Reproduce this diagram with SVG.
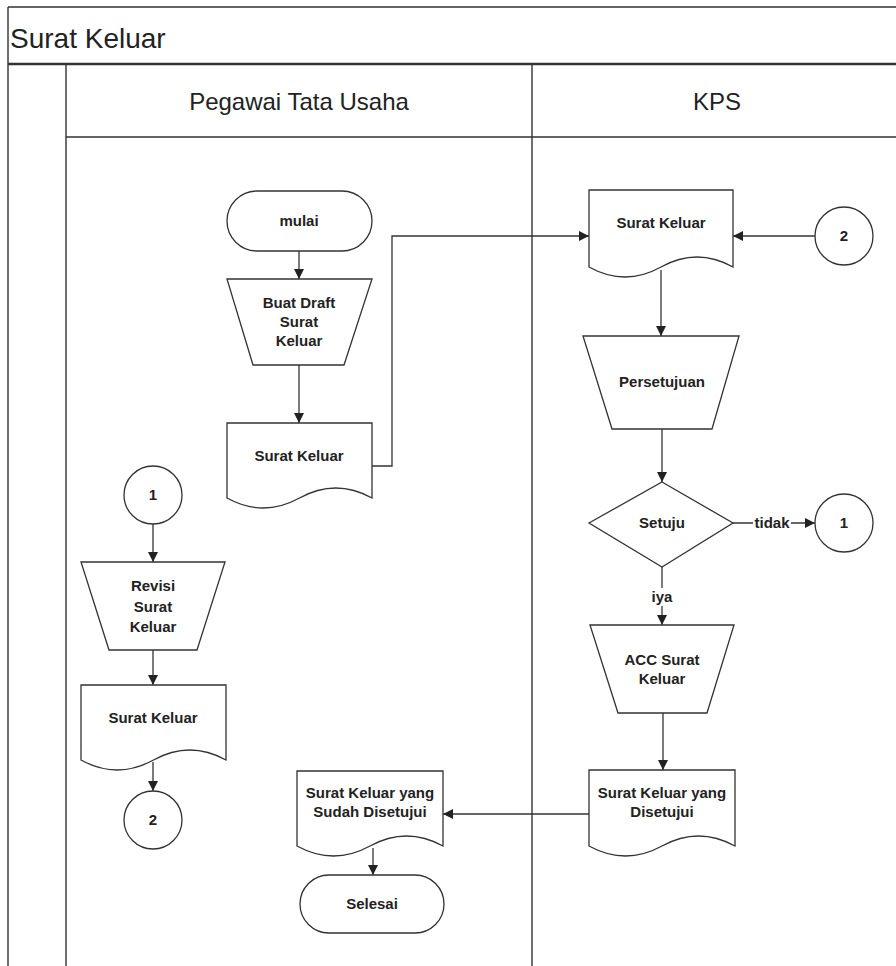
<svg xmlns="http://www.w3.org/2000/svg" width="896" height="966" viewBox="0 0 896 966">
<defs>
<marker id="ah" viewBox="0 0 10 10" refX="10" refY="5" markerWidth="10" markerHeight="10" markerUnits="userSpaceOnUse" orient="auto">
<path d="M0,0 L10,5 L0,10 Z" fill="#222"/>
</marker>
<style>
.frame{fill:none;stroke:#333;stroke-width:1.4}
.shape{fill:#fff;stroke:#333;stroke-width:1.3}
.conn{fill:none;stroke:#333;stroke-width:1.3;marker-end:url(#ah)}
.plain{fill:none;stroke:#333;stroke-width:1.3}
text{font-family:"Liberation Sans",Arial,sans-serif;fill:#222}
.t{font-size:15px;font-weight:bold;text-anchor:middle}
.h{font-size:24px;text-anchor:middle}
.title{font-size:28px}
</style>
</defs>
<rect width="896" height="966" fill="#fff"/>
<g id="frame">
<path class="frame" d="M8,7 H896 M8,7 V966 M66,64 V966 M66,137 H896 M532,64 V966"/>
<path d="M8,64 H896" fill="none" stroke="#333" stroke-width="2.4"/>
<text class="title" x="10" y="48">Surat Keluar</text>
<text class="h" x="299" y="110">Pegawai Tata Usaha</text>
<text class="h" x="717" y="110">KPS</text>
</g>
<g id="connectors">
<path class="conn" d="M299,251 V279"/>
<path class="conn" d="M299,365 V423"/>
<path class="conn" d="M372,466 H392 V236 H589"/>
<path class="conn" d="M815,236 H733"/>
<path class="conn" d="M661,270 V336"/>
<path class="conn" d="M662,429 V482"/>
<path class="conn" d="M733,523 H815"/>
<path class="conn" d="M662,567 V625"/>
<path class="conn" d="M663,713 V770"/>
<path class="conn" d="M589,814 H443"/>
<path class="conn" d="M373,848 V875"/>
<path class="conn" d="M153,524 V562"/>
<path class="conn" d="M153,650 V685"/>
<path class="conn" d="M153,762 V791"/>
<rect x="753" y="514" width="38" height="18" fill="#fff"/>
<text class="t" x="772" y="528">tidak</text>
<rect x="650" y="588" width="24" height="18" fill="#fff"/>
<text class="t" x="662" y="602">iya</text>
</g>
<g id="mulai">
<rect class="shape" x="227" y="191" width="145" height="60" rx="30"/>
<text class="t" x="299" y="226">mulai</text>
</g>
<g id="buat-draft">
<path class="shape" d="M227,279 H372 L344,365 H253 Z"/>
<text class="t" x="299" y="308">Buat Draft</text>
<text class="t" x="299" y="327">Surat</text>
<text class="t" x="299" y="346">Keluar</text>
</g>
<g id="doc-draft">
<path class="shape" d="M227,423 H372 V498 Q335.75,478 299.5,498 Q263.25,518 227,498 Z"/>
<text class="t" x="299" y="461">Surat Keluar</text>
</g>
<g id="doc-kps">
<path class="shape" d="M589,190 H733 V267 Q697,247 661,267 Q625,287 589,267 Z"/>
<text class="t" x="661" y="228">Surat Keluar</text>
</g>
<g id="conn-2-right">
<circle class="shape" cx="844" cy="236" r="29"/>
<text class="t" x="844" y="241">2</text>
</g>
<g id="persetujuan">
<path class="shape" d="M583,336 H739 L712,429 H612 Z"/>
<text class="t" x="662" y="387">Persetujuan</text>
</g>
<g id="setuju">
<path class="shape" d="M662,482 L733,523 L662,567 L589,523 Z"/>
<text class="t" x="662" y="528">Setuju</text>
</g>
<g id="conn-1-right">
<circle class="shape" cx="844" cy="523" r="29"/>
<text class="t" x="844" y="528">1</text>
</g>
<g id="acc">
<path class="shape" d="M590,625 H734 L707,713 H618 Z"/>
<text class="t" x="662" y="665">ACC Surat</text>
<text class="t" x="662" y="684">Keluar</text>
</g>
<g id="doc-disetujui">
<path class="shape" d="M589,770 H735 V846 Q698.5,826 662,846 Q625.5,866 589,846 Z"/>
<text class="t" x="662" y="798">Surat Keluar yang</text>
<text class="t" x="662" y="817">Disetujui</text>
</g>
<g id="doc-sudah">
<path class="shape" d="M297,771 H443 V846 Q406.5,826 370,846 Q333.5,866 297,846 Z"/>
<text class="t" x="370" y="798">Surat Keluar yang</text>
<text class="t" x="370" y="817">Sudah Disetujui</text>
</g>
<g id="selesai">
<rect class="shape" x="300" y="875" width="144" height="58" rx="29"/>
<text class="t" x="372" y="909">Selesai</text>
</g>
<g id="conn-1-left">
<circle class="shape" cx="153" cy="495" r="29"/>
<text class="t" x="153" y="500">1</text>
</g>
<g id="revisi">
<path class="shape" d="M81,562 H225 L197,650 H109 Z"/>
<text class="t" x="153" y="591">Revisi</text>
<text class="t" x="153" y="612">Surat</text>
<text class="t" x="153" y="632">Keluar</text>
</g>
<g id="doc-revisi">
<path class="shape" d="M81,685 H226 V760 Q189.75,740 153.5,760 Q117.25,780 81,760 Z"/>
<text class="t" x="153" y="723">Surat Keluar</text>
</g>
<g id="conn-2-left">
<circle class="shape" cx="153" cy="820" r="29"/>
<text class="t" x="153" y="825">2</text>
</g>
</svg>
